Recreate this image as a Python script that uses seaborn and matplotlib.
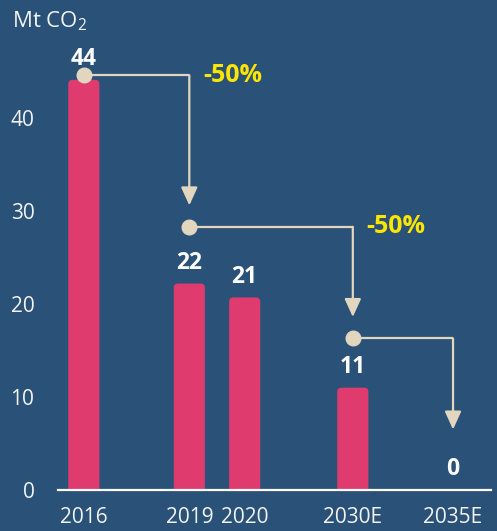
import matplotlib
matplotlib.use("Agg")
import matplotlib.pyplot as plt
import seaborn as sns
import pandas as pd
from matplotlib.patches import FancyBboxPatch

# data
years = ["2016", "2019", "2020", "2030E", "2035E"]
emissions = [44.1, 22.2, 20.7, 11.0, 0.0]
slots = [0, 2, 3.05, 5.1, 7]          # uneven spacing between categories

# reduction steps: (from bar, to bar, line level, arrow tip, label)
step_from = [0, 1, 3]
step_to = [1, 3, 4]
step_level = [44.6, 28.3, 16.3]
step_tip = [30.6, 18.6, 6.5]
step_label = ["-50%", "-50%", ""]

bg = "#2a5279"
bar_color = "#e03b6e"
beige = "#e2d6bf"
yellow = "#ffe600"
txt = "#f2f2f2"

sns.set_style("white")
plt.rcParams["font.family"] = ["Open Sans", "DejaVu Sans"]
plt.rcParams["mathtext.default"] = "regular"

df = pd.DataFrame({"slot": slots, "value": emissions, "year": years})

fig = plt.figure(figsize=(4.97, 5.31), dpi=100, facecolor=bg)
ax = fig.add_axes([58 / 497, 41 / 531, 433 / 497, 446.4 / 531])
ax.set_facecolor(bg)

sns.barplot(data=df, x="slot", y="value", native_scale=True, color=bar_color, ax=ax)

ax.set_xlim(-0.49, 7.72)
ax.set_ylim(0, 48)

# swap plain bars for ones with rounded tops
bw = 0.59
for p in list(ax.patches):
    cx = p.get_x() + p.get_width() / 2
    h = p.get_height()
    p.remove()
    if h <= 0:
        continue
    ax.add_patch(FancyBboxPatch((cx - bw / 2, -2), bw, h + 2,
                                boxstyle="round,pad=0,rounding_size=0.08",
                                mutation_aspect=5.67, fc=bar_color, ec="none",
                                zorder=2))

for x, v in zip(slots, emissions):
    ax.annotate(f"{v:.0f}", (x, v), xytext=(0, 15), textcoords="offset points",
                ha="center", va="center", color="white", fontsize=16.5,
                fontweight="bold")

# step arrows
for i0, i1, lev, tip, lab in zip(step_from, step_to, step_level, step_tip, step_label):
    x0, x1 = slots[i0], slots[i1]
    ax.plot([x0, x1], [lev, lev], color=beige, lw=1.6, zorder=3,
            solid_capstyle="butt")
    ax.annotate("", xy=(x1, tip), xytext=(x1, lev),
                arrowprops=dict(arrowstyle="-|>,head_length=1.1,head_width=0.5",
                                color=beige, lw=1.6, shrinkA=0, shrinkB=0),
                zorder=3)
    ax.plot([x0], [lev], "o", ms=10.5, color=beige, zorder=4)
    if lab:
        ax.annotate(lab, (x1, lev), xytext=(10, 0), textcoords="offset points",
                    ha="left", va="center", color=yellow, fontsize=18,
                    fontweight="bold")

ax.set_xticks(slots)
ax.set_xticklabels(years)
ax.set_yticks([0, 10, 20, 30, 40])
ax.set_xlabel("")
ax.set_ylabel("")
ax.tick_params(axis="both", length=0, labelsize=15, colors=txt)
ax.tick_params(axis="y", pad=17)
ax.tick_params(axis="x", pad=12)

for s in ["top", "right", "left"]:
    ax.spines[s].set_visible(False)
ax.spines["bottom"].set_color("white")
ax.spines["bottom"].set_linewidth(1.6)

fig.text(12 / 497, 1 - 27 / 531, "Mt CO$_2$", color=txt, fontsize=16,
         ha="left", va="baseline")

fig.savefig("out.png", dpi=100, facecolor=bg)
